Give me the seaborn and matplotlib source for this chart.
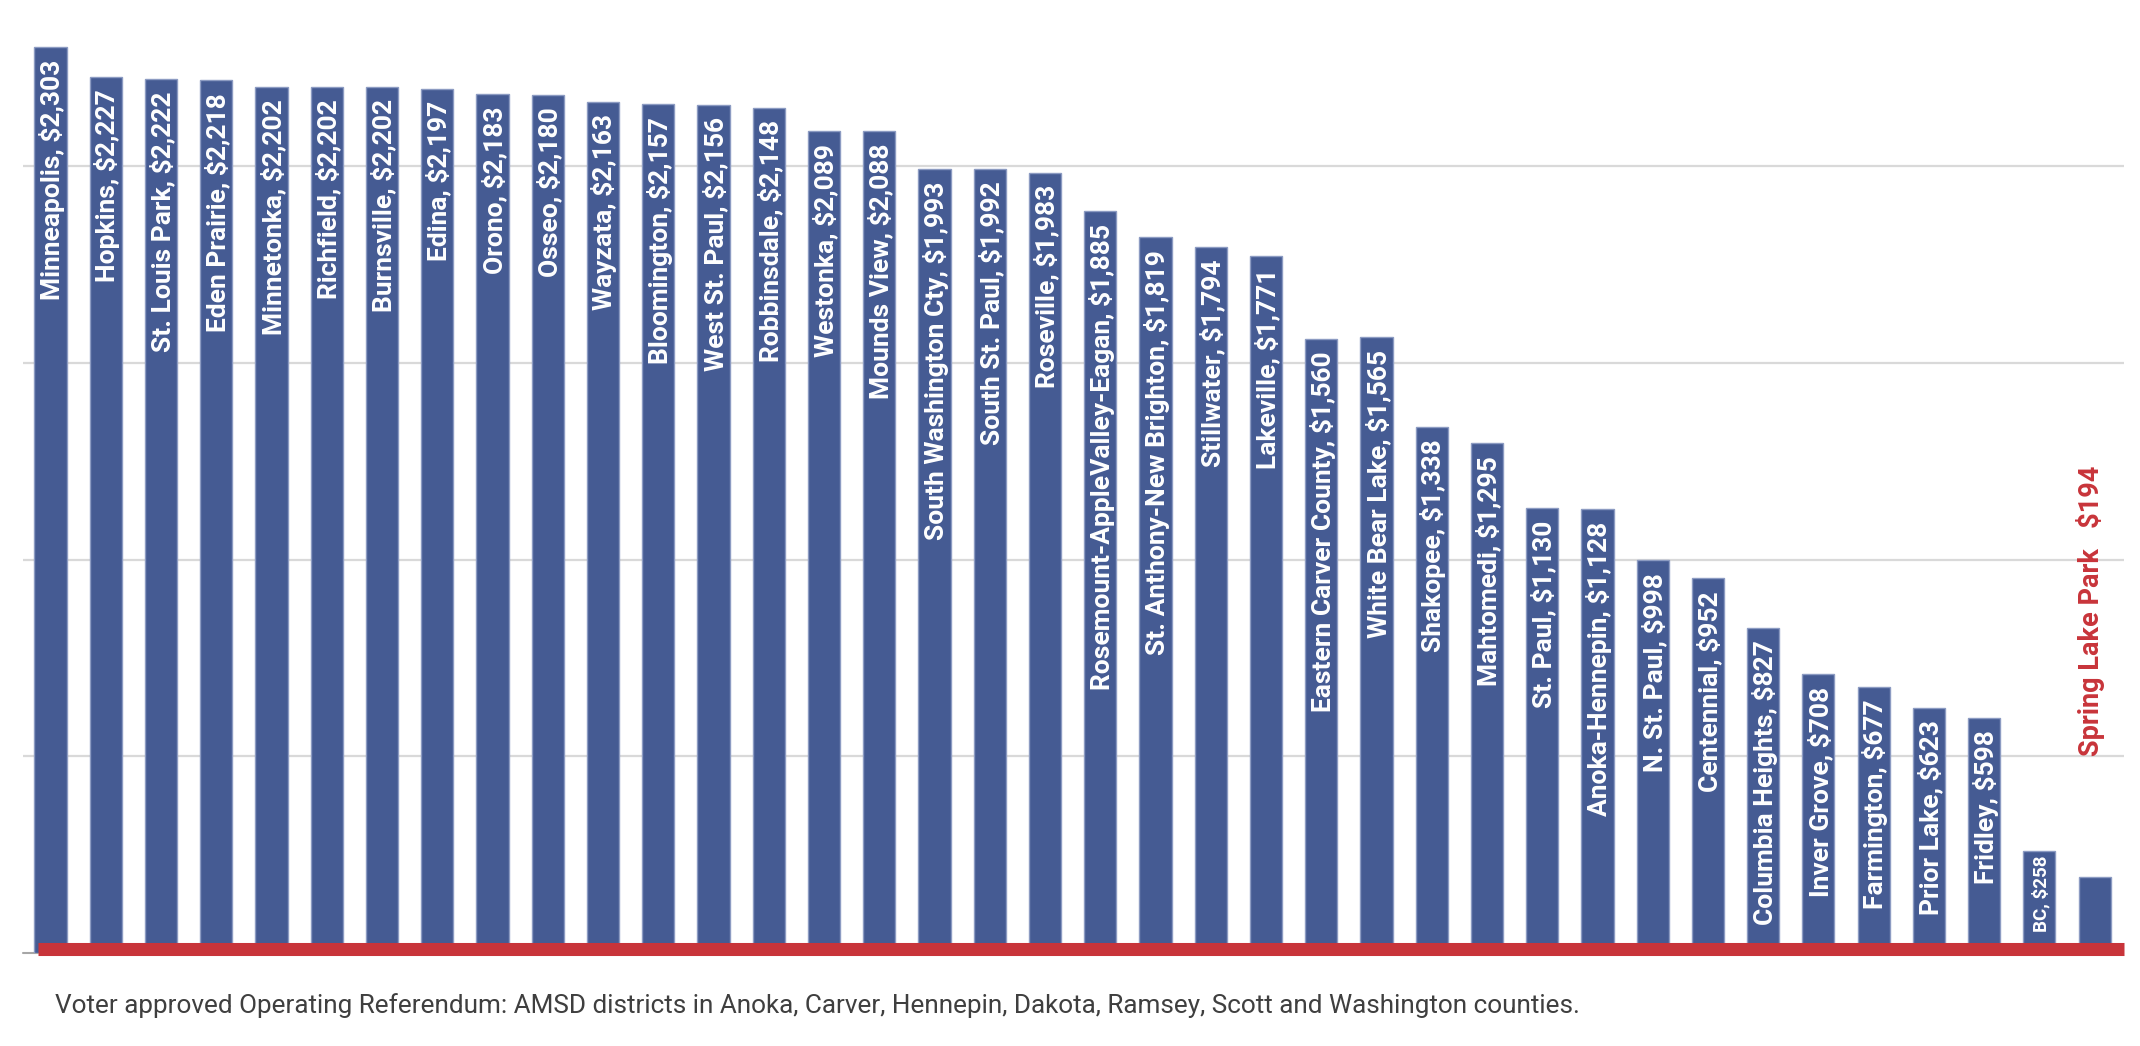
import pandas as pd
import seaborn as sns
import matplotlib.pyplot as plt

districts = ["Minneapolis", "Hopkins", "St. Louis Park", "Eden Prairie", "Minnetonka",
             "Richfield", "Burnsville", "Edina", "Orono", "Osseo", "Wayzata",
             "Bloomington", "West St. Paul", "Robbinsdale", "Westonka", "Mounds View",
             "South Washington Cty", "South St. Paul", "Roseville",
             "Rosemount-AppleValley-Eagan", "St. Anthony-New Brighton", "Stillwater",
             "Lakeville", "Eastern Carver County", "White Bear Lake", "Shakopee",
             "Mahtomedi", "St. Paul", "Anoka-Hennepin", "N. St. Paul", "Centennial",
             "Columbia Heights", "Inver Grove", "Farmington", "Prior Lake", "Fridley",
             "BC", "Spring Lake Park"]
amounts = [2303, 2227, 2222, 2218, 2202, 2202, 2202, 2197, 2183, 2180, 2163,
           2157, 2156, 2148, 2089, 2088, 1993, 1992, 1983, 1885, 1819, 1794,
           1771, 1560, 1565, 1338, 1295, 1130, 1128, 998, 952, 827, 708, 677,
           623, 598, 258, 194]
grid_values = [500, 1000, 1500, 2000]
caption = ("Voter approved Operating Referendum: AMSD districts in Anoka, Carver, "
           "Hennepin, Dakota, Ramsey, Scott and Washington counties.")

BLUE = "#455B93"
RED = "#C8343A"

df = pd.DataFrame({"district": districts, "amount": amounts})

sns.set_style("white")
plt.rcParams['font.family'] = ['Roboto', 'DejaVu Sans']

W, H = 2140, 1046
fig = plt.figure(figsize=(W / 100, H / 100), dpi=100)
# plot area in pixels: left 23, right 2124, baseline at y=953
ax = fig.add_axes([23 / W, (H - 953) / H, 2101 / W, 953 / H])

sns.barplot(data=df, x="district", y="amount", order=districts, color=BLUE,
            saturation=1, width=0.58, edgecolor="#8C9BC2", linewidth=1, ax=ax, zorder=3)

ax.set_xlim(-0.498, 37.53)
ax.set_ylim(0, 2422)
ax.set_yticks(grid_values)
ax.yaxis.grid(True, color="#D9D9D9", linewidth=1.6, zorder=0)
ax.set_axisbelow(True)
ax.tick_params(length=0, labelleft=False, labelbottom=False)
ax.set_xlabel("")
ax.set_ylabel("")
for s in ax.spines.values():
    s.set_visible(False)

# little tick at zero and the red baseline
ax.axhline(0, xmin=0, xmax=15 / 2101, color="#A6A6A6", lw=1.5, clip_on=False)
ax.axhline(11, xmin=15 / 2101, xmax=1, color=RED, lw=9.4, clip_on=False, zorder=5,
           solid_capstyle="butt")

# labels inside the bars
for i, (name, val) in enumerate(zip(districts, amounts)):
    if name == "Spring Lake Park":
        ax.annotate(f"{name}   ${val:,}", xy=(i, val), xytext=(-3, 87),
                    textcoords="offset points", rotation=90, ha="center", va="bottom",
                    color=RED, fontsize=19.5, fontweight="bold")
    elif name == "BC":
        ax.annotate(f"{name}, ${val:,}", xy=(i, val), xytext=(1, -3),
                    textcoords="offset points", rotation=90, ha="center", va="top",
                    color="white", fontsize=13.5, fontweight="bold")
    else:
        ax.annotate(f"{name}, ${val:,}", xy=(i, val), xytext=(1, -9),
                    textcoords="offset points", rotation=90, ha="center", va="top",
                    color="white", fontsize=19, fontweight="bold")

fig.text(55 / W, 33 / H, caption, ha="left", va="baseline", fontsize=18.8,
         color="#3F3F3F")

fig.savefig("out.png", dpi=100)
